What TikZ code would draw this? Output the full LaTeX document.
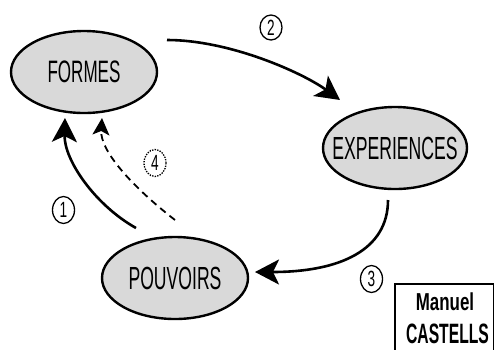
\documentclass[tikz,border=0pt]{standalone}
\usepackage{fontspec}
\setmainfont{Liberation Sans}
\newfontfamily\condfont[FakeStretch=0.55]{Liberation Sans}
\newfontfamily\numfont[FakeStretch=0.62]{Liberation Sans}
\newfontfamily\boxfontA[FakeStretch=0.69]{Liberation Sans}
\newfontfamily\boxfontB[FakeStretch=0.56]{Liberation Sans}
\usetikzlibrary{shapes.geometric,arrows.meta,calc}
\begin{document}
\begin{tikzpicture}[x=1pt,y=-1pt,
  bubble/.style={ellipse,draw,line width=2.4pt,fill=gray!30,inner sep=0pt,
    minimum width=146pt,minimum height=82pt},
  numlbl/.style={ellipse,draw,line width=1.3pt,minimum width=22pt,minimum height=27pt,
    inner sep=0pt,font=\numfont\fontsize{22}{22}\selectfont},
  flow/.style={line width=2.6pt,-{Stealth[length=24pt,width=25pt,inset=6pt]}},
  backflow/.style={line width=1.8pt,dash pattern=on 7pt off 5pt,
    -{Stealth[length=17pt,width=17pt,inset=4pt]}}]
\useasboundingbox (0,0) rectangle (494,349);
\clip (0,0) rectangle (494,349);
% main nodes
\node[bubble,font=\condfont\fontsize{31}{31}\selectfont] (formes) at (84,72) {\makebox[0pt]{FORMES}};
\node[bubble,minimum width=144pt,font=\condfont\fontsize{32}{32}\selectfont] (experiences) at (395,148) {\makebox[0pt]{EXPERIENCES}};
\node[bubble,font=\condfont\fontsize{32}{32}\selectfont] (pouvoirs) at (175,278) {\makebox[0pt]{POUVOIRS}};
% connector ends
\coordinate (s2) at ($(formes.center)+(83,-32)$);
\coordinate (e2) at ($(experiences.center)+(-55,-48)$);
\coordinate (s3) at ($(experiences.center)+(-7,52)$);
\coordinate (e3) at ($(pouvoirs.center)+(80,-6)$);
\coordinate (s1) at ($(pouvoirs.center)+(-39,-50)$);
\coordinate (e1) at ($(formes.center)+(-19,46)$);
\coordinate (s4) at ($(pouvoirs.center)+(0,-58)$);
\coordinate (e4) at ($(formes.center)+(18,46)$);
% connectors
\draw[flow] (s2) .. controls +(63,0) and +(-37,-27) .. (e2);
\draw[flow] (s3) .. controls +(0,50) and +(85,0) .. (e3);
\draw[flow] (s1) .. controls +(-41,-23) and +(-1,42) .. (e1);
\draw[backflow] (s4) .. controls +(-45,-35) and +(-2,32) .. (e4);
% number labels
\node[numlbl] (n1) at (63.5,210) {1};
\node[numlbl,minimum height=25pt] (n2) at (271,27.5) {2};
\node[numlbl] (n3) at (371.5,279) {3};
\node[numlbl,dash pattern=on 1.4pt off 1.2pt] (n4) at (155,163) {4};
% author box
\node[draw,line width=1.5pt,anchor=north west,minimum width=99pt,minimum height=80pt,inner sep=0pt] (box) at (394,283) {};
\node[anchor=base,inner sep=0pt,font=\boxfontA\bfseries\fontsize{24.5}{24.5}\selectfont] (manuel) at (445,310.5) {Manuel};
\node[anchor=base,inner sep=0pt,font=\boxfontB\bfseries\fontsize{28}{28}\selectfont] (castells) at (447.5,343.5) {CASTELLS};
\end{tikzpicture}
\end{document}
